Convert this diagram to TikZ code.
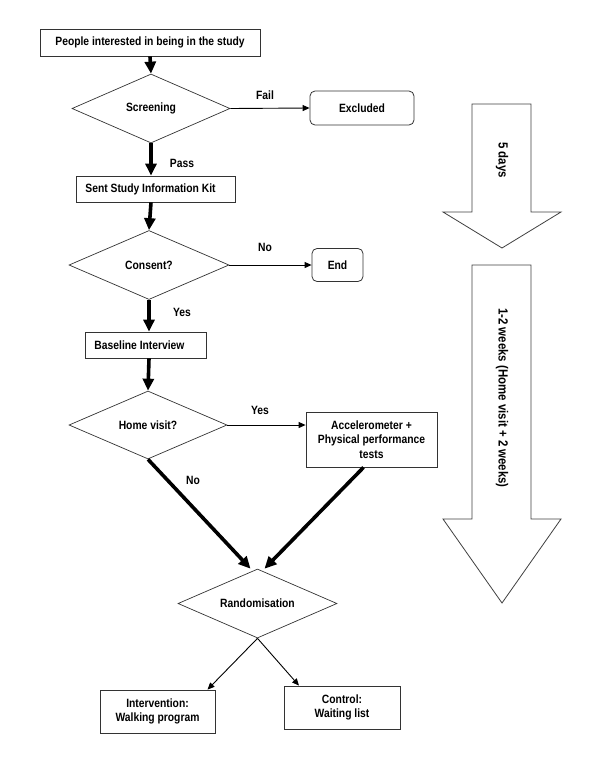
\documentclass[tikz,border=0pt]{standalone}
\usepackage{fontspec}
\setmainfont{Liberation Sans}[UprightFont={* Bold},FakeStretch=0.86]
\usetikzlibrary{shapes.geometric,arrows.meta}
\tikzset{
	box/.style={draw=black!80,line width=0.8pt,rectangle,inner sep=0pt},
	rbox/.style={box,rounded corners=5pt},
	decision/.style={draw=black!80,line width=0.7pt,diamond,inner sep=0pt,aspect=2.3},
	thickarrow/.style={line width=3.6pt,-{Triangle[length=12pt,width=11pt]}},
	thinarrow/.style={line width=0.9pt,-{Triangle[length=7pt,width=6pt]}},
	bigarrow/.style={draw=black!75,line width=0.8pt,fill=white},
	lbl/.style={inner sep=0pt},
	period/.style={lbl,rotate=-90,font=\fontsize{13.3}{15}\selectfont}
}

\begin{document}
\begin{tikzpicture}[x=1pt,y=-1pt,font=\fontsize{12}{14.3}\selectfont]
					\useasboundingbox (0,0) rectangle (600,774);
					%BOXES
					\node[box,minimum width=220,minimum height=27] (people) at (150,42.5) {People interested in being in the study};
					\node[decision,minimum width=158,minimum height=69] (screen) at (151,108.5) {Screening};
					\node[rbox,minimum width=104,minimum height=34] (excl) at (362,108) {Excluded};
					\node[box,minimum width=159,minimum height=26] (kit) at (155.5,189) {\hspace*{-10pt}Sent Study Information Kit};
					\node[decision,minimum width=160,minimum height=69] (consent) at (149,265) {Consent?};
					\node[rbox,minimum width=51,minimum height=33] (end) at (337.5,265) {End};
					\node[box,minimum width=121,minimum height=26] (base) at (145.5,345) {\hspace*{-12pt}Baseline Interview};
					\node[decision,minimum width=158,minimum height=68] (home) at (148,425) {Home visit?};
					\node[box,minimum width=131,minimum height=55,align=center] (accel) at (371.5,439.5) {Accelerometer +\\Physical performance\\tests};
					\node[decision,minimum width=159,minimum height=69] (rand) at (257.5,603.5) {Randomisation};
					\node[box,minimum width=115,minimum height=43,align=center] (interv) at (157.5,711.5) {Intervention:\\Walking program};
					\node[box,minimum width=116,minimum height=43,align=center] (ctrl) at (342,707.5) {Control:\\Waiting list};
					%ARROWS
					\draw[thickarrow] (people.south) -- (screen.north);
					\draw[thinarrow] (screen.east) -- (excl.west);
					\draw[thickarrow] (screen.south) -- (screen.south |- kit.north);
					\draw[thickarrow] (kit.south -| screen.south) -- (consent.north);
					\draw[thinarrow] (consent.east) -- (end.west);
					\draw[thickarrow] (consent.south) -- (consent.south |- base.north);
					\draw[thickarrow] (base.south -| consent.south) -- (home.north);
					\draw[thinarrow] (home.east) -- (accel.west |- home.east);
					\draw[thickarrow] (home.south) -- ([xshift=-7pt]rand.north);
					\draw[thickarrow] ([xshift=-8pt]accel.south) -- ([xshift=7pt]rand.north);
					\draw[thinarrow] (rand.south) -- ([xshift=50pt]interv.north);
					\draw[thinarrow] (rand.south) -- ([xshift=-43pt]ctrl.north);
					%LABELS
					\node[lbl] (fail) at (265,95) {Fail};
					\node[lbl] (pass) at (182,163) {Pass};
					\node[lbl] (no1) at (265,247) {No};
					\node[lbl] (yes1) at (182,312) {Yes};
					\node[lbl] (yes2) at (260,410) {Yes};
					\node[lbl] (no2) at (193,480) {No};
					%TIME ARROWS
					\draw[bigarrow] (472,104) -- (531,104) -- (531,212) -- (561,212) -- (502,248) -- (443,212) -- (472,212) -- cycle;
					\node[period] (days) at (502,160) {5 days};
					\draw[bigarrow] (472,265) -- (531,265) -- (531,519) -- (561,519) -- (502,603) -- (443,519) -- (472,519) -- cycle;
					\node[period] (weeks) at (502,398) {1-2 weeks (Home visit + 2 weeks)};
	  \end{tikzpicture}
\end{document}
